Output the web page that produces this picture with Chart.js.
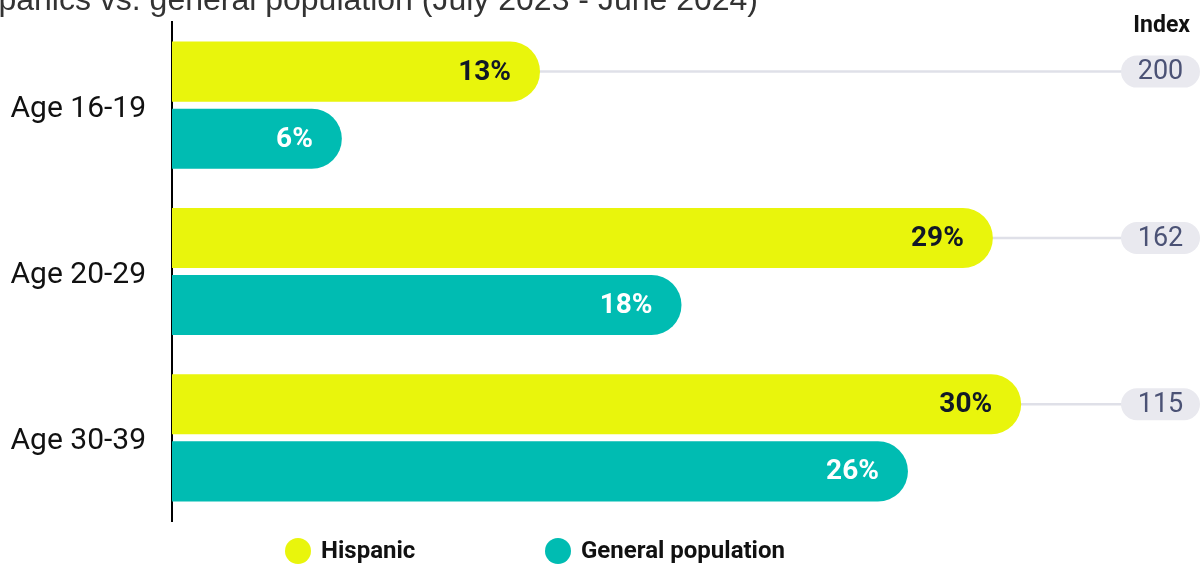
<!DOCTYPE html>
<html>
<head>
<meta charset="utf-8">
<script src="https://cdn.jsdelivr.net/npm/chart.js@4.4.1/dist/chart.umd.min.js"></script>
<style>
  html, body { margin: 0; padding: 0; background: #fff; }
  #wrap { width: 1204px; height: 566px; position: relative; }
</style>
</head>
<body>
<div id="wrap"><canvas id="ageChart" width="1204" height="566"></canvas></div>
<script>
const ageGroups = ['Age 16-19', 'Age 20-29', 'Age 30-39'];
const hispanicShare = [13, 29, 30];
const generalShare = [6, 18, 26];
const indexValues = [200, 162, 115];
const titleText = 'Hispanics vs. general population (July 2023 - June 2024)';

const YELLOW = '#e9f50c';
const TEAL = '#00bcb2';

// percentage text inside the rounded end of each bar
const barLabels = {
    id: 'barLabels',
    afterDatasetsDraw(chart) {
        const ctx = chart.ctx;
        ctx.save();
        ctx.font = 'bold 28px Roboto';
        ctx.textAlign = 'right';
        ctx.textBaseline = 'middle';
        chart.data.datasets.forEach((ds, di) => {
            const meta = chart.getDatasetMeta(di);
            ctx.fillStyle = di === 0 ? '#111827' : '#ffffff';
            meta.data.forEach((bar, i) => {
                ctx.fillText(ds.data[i] + '%', bar.x - 29, bar.y + 1);
            });
        });
        ctx.restore();
    }
};

// index pills on the right, joined to the Hispanic bars by a thin line
const indexPills = {
    id: 'indexPills',
    beforeDatasetsDraw(chart) {
        const ctx = chart.ctx;
        const meta = chart.getDatasetMeta(0);
        ctx.save();
        ctx.strokeStyle = '#dfe0e8';
        ctx.lineWidth = 2.5;
        meta.data.forEach(bar => {
            ctx.beginPath();
            ctx.moveTo(bar.x - 10, bar.y);
            ctx.lineTo(chart.width - 80, bar.y);
            ctx.stroke();
        });
        ctx.restore();
    },
    afterDraw(chart) {
        const ctx = chart.ctx;
        const meta = chart.getDatasetMeta(0);
        const w = 79, h = 32, right = chart.width - 4;
        ctx.save();
        meta.data.forEach((bar, i) => {
            ctx.fillStyle = '#e9e9ef';
            ctx.beginPath();
            ctx.roundRect(right - w, bar.y - h / 2, w, h, h / 2);
            ctx.fill();
            ctx.fillStyle = '#4b5275';
            ctx.font = '27px Roboto';
            ctx.textAlign = 'center';
            ctx.textBaseline = 'middle';
            ctx.fillText(String(indexValues[i]), right - w / 2, bar.y + 1);
        });
        ctx.font = 'bold 23px Roboto';
        ctx.fillStyle = '#111111';
        ctx.textAlign = 'right';
        ctx.textBaseline = 'alphabetic';
        ctx.fillText('Index', 1190, 32);

        // title line, running off the top edge
        ctx.font = '32px "Liberation Sans", Arial';
        ctx.fillStyle = '#333333';
        ctx.fillText(titleText, 758, 10);
        ctx.restore();
    }
};

// legend: coloured dots with bold names under the plot
const dotLegend = {
    id: 'dotLegend',
    afterDraw(chart) {
        const ctx = chart.ctx;
        const y = 551;
        const xs = [298, 558];
        ctx.save();
        ctx.font = 'bold 24px Roboto';
        ctx.textBaseline = 'middle';
        ctx.textAlign = 'left';
        chart.data.datasets.forEach((ds, i) => {
            ctx.fillStyle = ds.backgroundColor;
            ctx.beginPath();
            ctx.arc(xs[i], y, 13, 0, Math.PI * 2);
            ctx.fill();
            ctx.fillStyle = '#111111';
            ctx.fillText(ds.label, xs[i] + 23, y + 1);
        });
        ctx.restore();
    }
};

const ageCtx = document.getElementById('ageChart').getContext('2d');
const ageChart = new Chart(ageCtx, {
    type: 'bar',
    data: {
        labels: ageGroups,
        datasets: [
            {
                label: 'Hispanic',
                data: hispanicShare,
                backgroundColor: YELLOW,
                borderRadius: 30,
                borderSkipped: 'start',
                categoryPercentage: 0.807,
                barPercentage: 0.8955
            },
            {
                label: 'General population',
                data: generalShare,
                backgroundColor: TEAL,
                borderRadius: 30,
                borderSkipped: 'start',
                categoryPercentage: 0.807,
                barPercentage: 0.8955
            }
        ]
    },
    options: {
        indexAxis: 'y',
        responsive: false,
        animation: false,
        devicePixelRatio: 1,
        layout: {
            padding: { top: 22, bottom: 45, left: 0, right: 13 }
        },
        scales: {
            x: {
                display: false,
                min: 0,
                max: 36
            },
            y: {
                afterFit(scale) {
                    scale.width = 172;
                    scale.paddingTop = 0;
                    scale.paddingBottom = 0;
                },
                grid: { display: false, drawTicks: false },
                border: { display: true, color: '#000000', width: 2 },
                ticks: {
                    color: '#111111',
                    padding: 26,
                    labelOffset: 4,
                    font: { family: 'Roboto', size: 30 }
                }
            }
        },
        plugins: {
            legend: { display: false },
            tooltip: { enabled: false }
        }
    },
    plugins: [barLabels, indexPills, dotLegend]
});
</script>
</body>
</html>
